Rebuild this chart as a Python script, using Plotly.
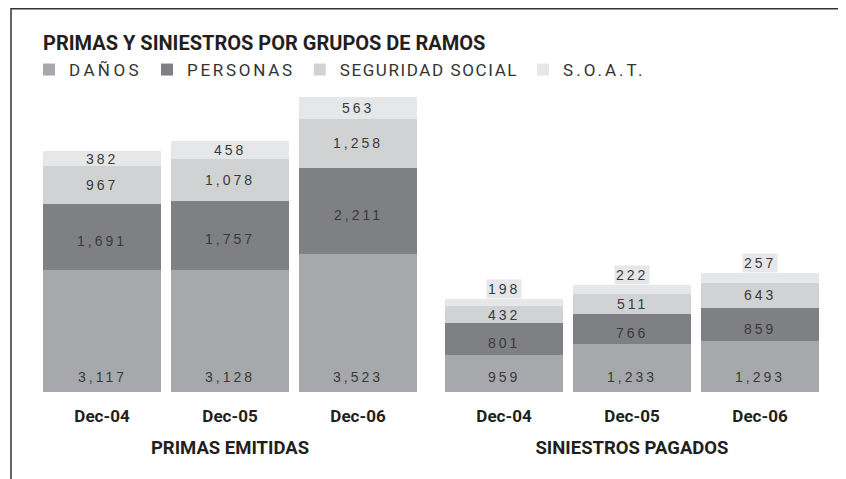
import plotly.graph_objects as go

# ---------------- data ----------------
periods = ["Dec-04", "Dec-05", "Dec-06"]
groups = ["PRIMAS EMITIDAS", "SINIESTROS PAGADOS"]
series_names = ["DAÑOS", "PERSONAS", "SEGURIDAD SOCIAL", "S.O.A.T."]
primas_danos = [3117, 3128, 3523]
primas_personas = [1691, 1757, 2211]
primas_seguridad = [967, 1078, 1258]
primas_soat = [382, 458, 563]
siniestros_danos = [959, 1233, 1293]
siniestros_personas = [801, 766, 859]
siniestros_seguridad = [432, 511, 643]
siniestros_soat = [198, 222, 257]
title_text = "PRIMAS Y SINIESTROS POR GRUPOS DE RAMOS"

# ---------------- style ----------------
W, H = 846, 479
OFF = 8  # page body margin
colors = ["#a7a8ab", "#7f8083", "#d1d2d4", "#e6e7e8"]
legend_spacing = [3.4, 2.7, 1.6, 3.0]
TXT = "#231f20"
LBL = "#3a3a3a"
PLOT_TOP, PLOT_BOT = 95 - OFF, 392 - OFF
Y_MAX = 7600
px_per_unit = (PLOT_BOT - PLOT_TOP) / Y_MAX


def xp(sx):
    return (sx - OFF) / W


def yp(fy):
    return (PLOT_BOT - fy) / (PLOT_BOT - PLOT_TOP)


def spaced(s, ls):
    return f'<span style="letter-spacing:{ls}px">{s}</span>'


group_data = [
    [primas_danos, primas_personas, primas_seguridad, primas_soat],
    [siniestros_danos, siniestros_personas, siniestros_seguridad, siniestros_soat],
]
axes = [("x", "y"), ("x2", "y2")]

fig = go.Figure()
annotations = []
for g, (vals_list, (xa, ya)) in enumerate(zip(group_data, axes)):
    for s, vals in enumerate(vals_list):
        fig.add_trace(go.Bar(
            x=periods, y=vals, name=spaced(series_names[s], legend_spacing[s]),
            marker=dict(color=colors[s], line=dict(width=0)),
            xaxis=xa, yaxis=ya, showlegend=(g == 0),
            legendgroup=series_names[s], hoverinfo="skip",
        ))
    for i, per in enumerate(periods):
        base = 0
        total = sum(v[i] for v in vals_list)
        for s, vals in enumerate(vals_list):
            v = vals[i]
            a = dict(xref=xa, yref=ya, x=per, text=spaced(f"{v:,}", 3),
                     showarrow=False, font=dict(family="Liberation Sans", size=14, color=LBL))
            if s == 0:
                a.update(y=0, yanchor="middle", yshift=15)
            elif v * px_per_unit < 12:
                a.update(y=total, yanchor="bottom", bgcolor=colors[s], borderpad=1)
            else:
                a.update(y=base + v / 2, yanchor="middle", yshift=(-4 if s == 1 else 0))
            annotations.append(a)
            base += v

axis_common = dict(
    type="category", showgrid=False, zeroline=False, showline=False, ticks="",
    ticklabelstandoff=12,
    tickfont=dict(family="Roboto", size=17, color=TXT, weight=700),
    title=dict(font=dict(family="Roboto", size=18.5, color=TXT, weight=700), standoff=16),
)
fig.update_layout(
    width=W, height=H, autosize=False,
    margin=dict(l=0, r=0, t=PLOT_TOP, b=H - PLOT_BOT, pad=0),
    paper_bgcolor="white", plot_bgcolor="white",
    barmode="stack", bargap=10 / 128,
    xaxis=dict(domain=[xp(38), xp(422)], anchor="y", title_text=groups[0], **axis_common),
    xaxis2=dict(domain=[xp(440), xp(824)], anchor="y2", title_text=groups[1], **axis_common),
    yaxis=dict(range=[0, Y_MAX], visible=False, fixedrange=True),
    yaxis2=dict(range=[0, Y_MAX], visible=False, matches="y", anchor="x2"),
    title=dict(text=title_text, x=xp(43), xanchor="left", xref="paper",
               y=(H - (43 - OFF)) / H, yanchor="middle", yref="container",
               font=dict(family="Roboto", size=20, color=TXT, weight=700)),
    legend=dict(orientation="h", x=xp(29), xanchor="left", y=yp(70 - OFF), yanchor="middle",
                font=dict(family="Roboto", size=17, color="#333333"),
                traceorder="normal", bgcolor="rgba(0,0,0,0)"),
    annotations=annotations,
    shapes=[dict(type="path", xref="paper", yref="paper",
                 path=(f"M {xp(11)},{yp(H)} L {xp(11)},{yp(0.75)} "
                       f"L {xp(842)},{yp(0.75)} L {xp(842)},{yp(H)}"),
                 line=dict(color="#333333", width=1.5))],
    showlegend=True,
)

fig.write_html("out.html")
